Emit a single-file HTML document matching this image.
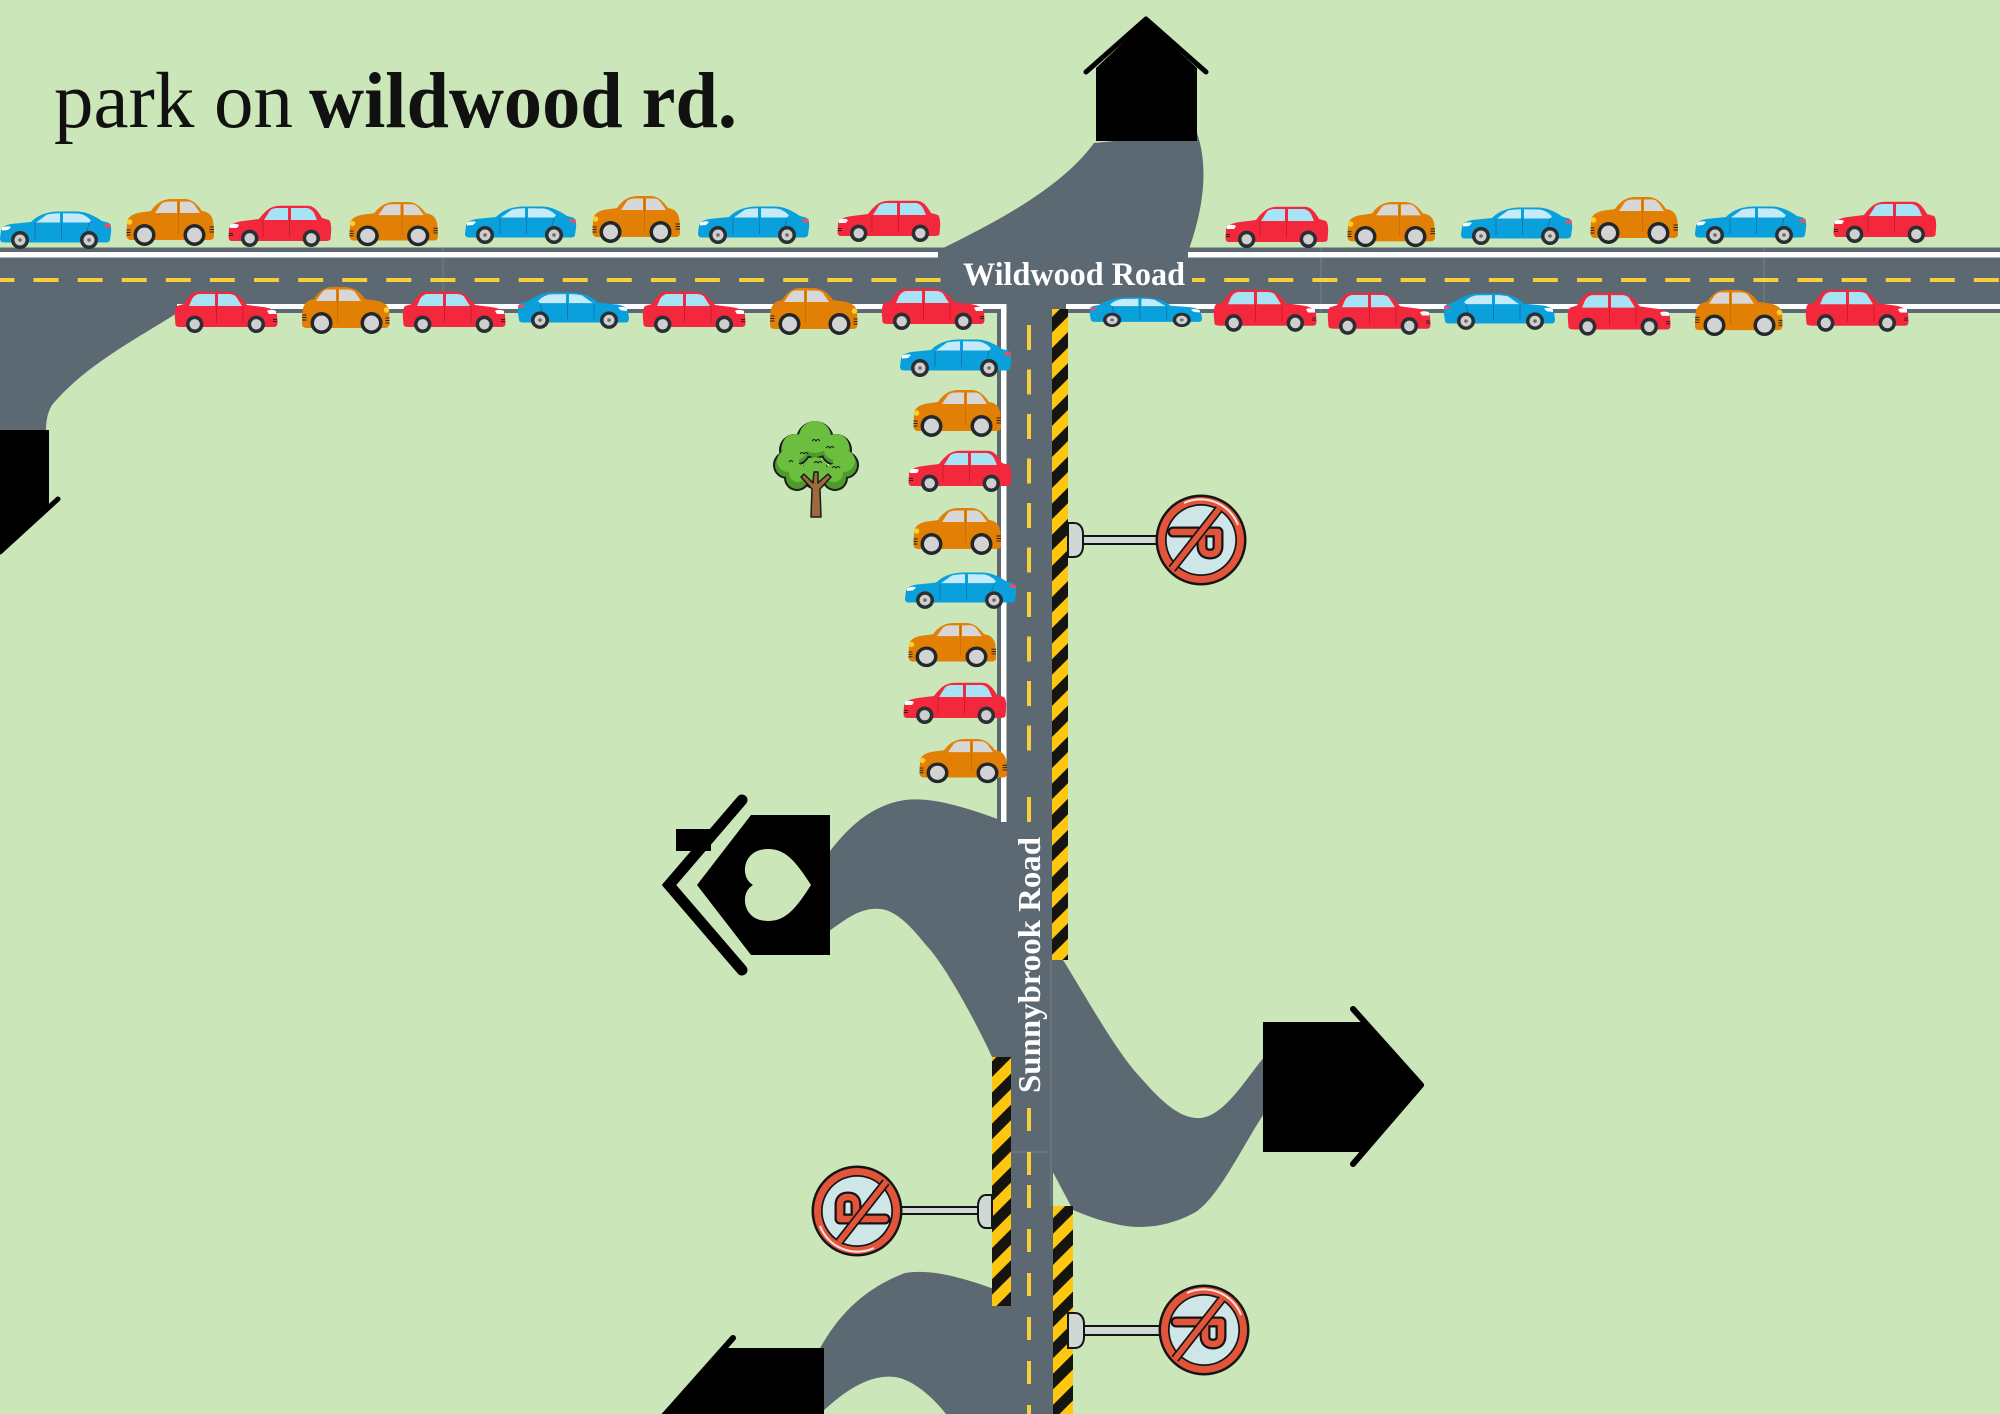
<!DOCTYPE html>
<html><head><meta charset="utf-8">
<style>html,body{margin:0;padding:0;background:#cbe6b8}svg{display:block}</style>
</head><body>
<svg width="2000" height="1414" viewBox="0 0 2000 1414" xmlns="http://www.w3.org/2000/svg">
<defs>
  <pattern id="hz" patternUnits="userSpaceOnUse" width="22" height="22" patternTransform="rotate(45)">
    <rect width="22" height="22" fill="#fdc60f"/><rect width="11" height="22" fill="#16140f"/>
  </pattern>
  <pattern id="hd" patternUnits="userSpaceOnUse" x="33.5" y="278" width="44.1" height="4">
    <rect width="25" height="4" fill="#f6cf3a"/>
  </pattern>
  <pattern id="vd1" patternUnits="userSpaceOnUse" x="1027" y="325" width="4" height="44.5">
    <rect width="4" height="25" fill="#f6cf3a"/>
  </pattern>
  <pattern id="vd2" patternUnits="userSpaceOnUse" x="1027" y="1185" width="4" height="44">
    <rect width="4" height="23" fill="#f6cf3a"/>
  </pattern>

  <g id="cB">
    <path d="M1,20 C2,15 8,13 16,12.5 L31,11 C38,4 46,1 58,0.5 L78,0.5 C88,1 96,6 102,10 L108,11.5 C111,13 111.5,17 111,22 L110,29 C109.5,31 108,31.5 105,31.5 L4,31.5 C1,31.5 0,30 0,27 Z" fill="#0aa0dc"/>
    <path d="M36,11.5 L47,3.5 C52,2.5 56,2.2 60,2.2 L60,11.5 Z" fill="#c4ebf7"/>
    <path d="M63,2.2 L79,2.5 C84,3.5 88,6 91,9.5 L89,11.5 L63,11.5 Z" fill="#c4ebf7"/>
    <path d="M35,12 L35,28 M61.5,12 L61.5,28 M89,12 L85,28" stroke="#0a76a6" stroke-width="0.9" fill="none"/>
    <path d="M2,17 C5,15 9,15 11,16 L8,19 L2,19.5 Z" fill="#fff"/>
    <path d="M104,13 L111,13.5 L110.5,17 L105,16 Z" fill="#ef4f5a"/>
    <circle cx="20" cy="29" r="9" fill="#2a2f33"/><circle cx="20" cy="29" r="5.5" fill="#cfcfcf"/><circle cx="20" cy="29" r="1.8" fill="#6b6b6b"/>
    <circle cx="89" cy="29" r="9" fill="#2a2f33"/><circle cx="89" cy="29" r="5.5" fill="#cfcfcf"/><circle cx="89" cy="29" r="1.8" fill="#6b6b6b"/>
  </g>
  <g id="cO">
    <path d="M1,26 C1,18 8,15 18,14 L25,13 C31,4 38,1 46,1 L58,1 C66,1 71,6 76,13 C84,14 87,19 87.5,26 L88,38 C88,41 86,42 83,42 L5,42 C2,42 0.5,40 0.5,37 Z" fill="#e27f05"/>
    <path d="M29,15 L35,6 C37,4 40,3.5 44,3.5 L51,3.5 L51,15 Z" fill="#d7d7d7"/>
    <path d="M54,3.5 L63,3.5 C66,4 68,6 70,9 L74,15 L54,15 Z" fill="#d7d7d7"/>
    <path d="M52.5,4 L52.5,36" stroke="#c86e00" stroke-width="0.9"/>
    <circle cx="3.5" cy="24" r="2.8" fill="#f7d12e"/>
    <path d="M0.5,32h4M0.5,34.5h4M0.5,37h4M83.5,29h4.5M83.5,31.5h4.5M83.5,34h4.5" stroke="#222" stroke-width="1"/>
    <circle cx="18.5" cy="37" r="11" fill="#22272a"/><circle cx="18.5" cy="37" r="7.5" fill="#d3d3d3"/>
    <circle cx="68.5" cy="37" r="11" fill="#22272a"/><circle cx="68.5" cy="37" r="7.5" fill="#d3d3d3"/>
  </g>
  <g id="cR">
    <path d="M1,24 C2,19 8,17 15,16 L31,14 C38,5 43,1 52,0.8 L80,0.8 C86,1 90,6 94,13 L101,15 C103,17 103.5,22 103,28 L102.5,34 C102,35.5 100,36 97,36 L4,36 C1,36 0.5,34 0.5,31 Z" fill="#f3283c"/>
    <path d="M36,15 L42,5.5 C44,3.5 47,3 50,3 L60,3 L60,15 Z" fill="#a8e2f5"/>
    <path d="M63,3 L79,3 C82,3.5 84,5 86,8 L89,15 L63,15 Z" fill="#a8e2f5"/>
    <path d="M35,15 L35,32 M61.5,15 L61.5,32" stroke="#c81a2d" stroke-width="0.9"/>
    <path d="M2,20 C5,18.5 9,18.5 11,20 L9,23 L2,23 Z" fill="#fff"/>
    <path d="M1,28.5h4M1,30.5h4" stroke="#222" stroke-width="0.9"/>
    <circle cx="21.7" cy="33.3" r="8.7" fill="#2a2f33"/><circle cx="21.7" cy="33.3" r="5.2" fill="#cfcfcf"/>
    <circle cx="83.3" cy="33.3" r="8.7" fill="#2a2f33"/><circle cx="83.3" cy="33.3" r="5.2" fill="#cfcfcf"/>
  </g>
  <g id="sign">
    <circle r="45.5" fill="#141414"/>
    <circle r="43" fill="#e2553b"/>
    <path d="M-37,17 A40 40 0 0 1 -15,-37" stroke="#ffffff" stroke-width="2" fill="none" opacity="0.85"/>
    <circle r="36" fill="#141414"/>
    <circle r="34.3" fill="#cfe6e8"/>
    <path d="M-8,28 L-8,-17 L6,-17 Q14,-17 14,-9 Q14,-1 6,-1 L-8,-1" stroke="#141414" stroke-width="11" fill="none" stroke-linejoin="round" stroke-linecap="round"/>
    <path d="M-8,28 L-8,-17 L6,-17 Q14,-17 14,-9 Q14,-1 6,-1 L-8,-1" stroke="#e2553b" stroke-width="6.5" fill="none" stroke-linejoin="round" stroke-linecap="round"/>
    <line x1="-31" y1="-18" x2="29" y2="29" stroke="#141414" stroke-width="9"/>
    <line x1="-31" y1="-18" x2="29" y2="29" stroke="#e2553b" stroke-width="5.5"/>
  </g>
</defs>

<rect width="2000" height="1414" fill="#cbe6b8"/>

<!-- roads -->
<g fill="#5c6872">
  <path d="M0,300 L185,300 L177,313 C140,337 85,365 52,405 C46,415 46,425 46,434 L0,434 Z"/>
  <path d="M1094,143 L1197,133 C1208,165 1205,205 1188,252 L935,252 C990,225 1060,190 1094,143 Z"/>
  <rect x="0" y="247.5" width="2000" height="65.5"/>
  <rect x="997" y="305" width="56" height="1109"/>
  <path d="M825,858 C845,830 870,805 905,800 C930,797 960,805 1006,822 L1063,960 C1085,995 1115,1050 1140,1077 C1160,1100 1180,1120 1201,1118 C1225,1115 1245,1080 1265,1056 L1265,1112 C1240,1150 1215,1205 1190,1215 C1170,1225 1145,1230 1120,1225 C1100,1221 1085,1215 1073,1210 L992,1057 C975,1020 945,965 926,945 C910,925 895,910 880,909 C860,907 845,920 825,934 Z"/>
  <path d="M818,1352 C835,1320 860,1290 905,1273 C935,1268 970,1280 1011,1295 L1011,1414 L946,1414 C935,1400 915,1380 895,1377 C870,1374 845,1390 820,1414 Z"/>
</g>

<!-- seams -->
<g stroke="#87919a" stroke-width="1" opacity="0.6">
  <line x1="443" y1="248" x2="443" y2="313"/>
  <line x1="1321" y1="248" x2="1321" y2="313"/>
  <line x1="1764" y1="248" x2="1764" y2="313"/>
  <line x1="1011" y1="1152" x2="1048" y2="1152"/>
  <line x1="1051" y1="960" x2="1051" y2="1206"/>
</g>

<!-- white lines -->
<g fill="#ffffff">
  <rect x="0" y="252" width="938" height="5.5"/>
  <rect x="1188" y="252" width="812" height="5.5"/>
  <rect x="177" y="304" width="829" height="5"/>
  <rect x="1066" y="304" width="934" height="5"/>
  <rect x="1001" y="304" width="5.5" height="518"/>
</g>

<!-- yellow dashes -->
<rect x="0" y="278" width="946" height="4" fill="url(#hd)"/>
<rect x="1192" y="278" width="808" height="4" fill="url(#hd)"/>
<rect x="1027" y="313" width="4" height="440" fill="url(#vd1)"/>
<rect x="1027" y="797" width="4" height="25" fill="#f6cf3a"/>
<rect x="1027" y="1108" width="4" height="23" fill="#f6cf3a"/>
<rect x="1027" y="1152" width="4" height="23" fill="#f6cf3a"/>
<rect x="1027" y="1185" width="4" height="229" fill="url(#vd2)"/>

<!-- hazard stripes -->
<rect x="1052" y="309" width="16" height="651" fill="url(#hz)"/>
<rect x="992" y="1057" width="19" height="249" fill="url(#hz)"/>
<rect x="1053" y="1206" width="20" height="208" fill="url(#hz)"/>

<!-- road labels -->
<text x="963" y="285" font-family="Liberation Serif, serif" font-weight="bold" font-size="33" fill="#ffffff" textLength="222" lengthAdjust="spacingAndGlyphs">Wildwood Road</text>
<text transform="translate(1040,1093) rotate(-90)" x="0" y="0" font-family="Liberation Serif, serif" font-weight="bold" font-size="32" fill="#ffffff" textLength="256" lengthAdjust="spacingAndGlyphs">Sunnybrook Road</text>

<!-- houses -->
<g fill="#000">
  <!-- top house -->
  <path d="M1096,141 L1096,68 L1146,21 L1197,68 L1197,141 Z"/>
  <polyline points="1086,72 1146,19 1206,72" fill="none" stroke="#000" stroke-width="5" stroke-linecap="round" stroke-linejoin="round"/>
  <!-- left house -->
  <path d="M0,430 L49,430 L49,507 L0,550 Z"/>
  <line x1="58" y1="499" x2="0" y2="552" stroke="#000" stroke-width="5" stroke-linecap="round"/>
  <!-- heart house -->
  <path d="M751,815 L830,815 L830,955 L751,955 L697,885 Z"/>
  <polyline points="742,800 669,885 742,970" fill="none" stroke="#000" stroke-width="11" stroke-linecap="round" stroke-linejoin="miter"/>
  <rect x="676" y="829" width="35" height="22"/>
  <path d="M811,885 C795,860 785,849 768,849 C752,849 744,860 745,872 C746,880 750,883 753,885 C750,887 746,890 745,898 C744,910 752,921 768,921 C785,921 795,910 811,885 Z" fill="#cbe6b8"/>
  <!-- right house -->
  <path d="M1263,1022 L1364,1022 L1421,1085 L1364,1152 L1263,1152 Z"/>
  <polyline points="1353,1009 1421,1085 1353,1164" fill="none" stroke="#000" stroke-width="6" stroke-linecap="round" stroke-linejoin="round"/>
  <!-- bottom-left house -->
  <path d="M724,1348 L824,1348 L824,1414 L665,1414 Z"/>
  <line x1="733" y1="1338" x2="662" y2="1418" stroke="#000" stroke-width="6" stroke-linecap="round"/>
</g>

<!-- sign posts -->
<g fill="#cfd8d4" stroke="#141414" stroke-width="2">
  <rect x="1082" y="536" width="78" height="8"/>
  <path d="M1068,523 L1074,523 C1080,523 1083,528 1083,534 L1083,546 C1083,552 1080,557 1074,557 L1068,557 Z"/>
  <rect x="898" y="1207" width="81" height="7"/>
  <path d="M992,1195 L986,1195 C981,1195 978,1200 978,1206 L978,1217 C978,1223 981,1228 986,1228 L992,1228 Z"/>
  <rect x="1083" y="1326" width="79" height="9"/>
  <path d="M1068,1313 L1075,1313 C1081,1313 1084,1318 1084,1324 L1084,1337 C1084,1343 1081,1348 1075,1348 L1068,1348 Z"/>
</g>
<use href="#sign" transform="translate(1201,540) rotate(90)"/>
<use href="#sign" transform="translate(857,1211) rotate(-90)"/>
<use href="#sign" transform="translate(1204,1330) rotate(90)"/>

<!-- tree -->
<g>
  <g fill="#1b1b1b">
    <circle cx="815" cy="440" r="19"/><circle cx="795" cy="450" r="16"/><circle cx="787" cy="465" r="14"/>
    <circle cx="797" cy="478" r="13"/><circle cx="815" cy="474" r="15"/><circle cx="836" cy="450" r="16"/>
    <circle cx="845" cy="465" r="14"/><circle cx="835" cy="478" r="13"/>
  </g>
  <g fill="#4c9c2c">
    <circle cx="815" cy="440" r="17"/><circle cx="795" cy="450" r="14"/><circle cx="787" cy="465" r="12"/>
    <circle cx="797" cy="478" r="11"/><circle cx="815" cy="474" r="13"/><circle cx="836" cy="450" r="14"/>
    <circle cx="845" cy="465" r="12"/><circle cx="835" cy="478" r="11"/>
  </g>
  <g fill="#6cbe3f">
    <circle cx="815" cy="437" r="16"/><circle cx="795" cy="447" r="13"/><circle cx="788" cy="461" r="11"/>
    <circle cx="798" cy="473" r="9"/><circle cx="815" cy="469" r="12"/><circle cx="836" cy="447" r="13"/>
    <circle cx="844" cy="461" r="11"/><circle cx="834" cy="473" r="9"/>
  </g>
  <path d="M811,517 L812,489 L801,477 L804,474 L813,483 L814,472 L818,472 L818,483 L828,474 L831,477 L820,489 L821,517 Z" fill="#9c6a3c" stroke="#1b1b1b" stroke-width="1.5" stroke-linejoin="round"/>
  <g stroke="#1b1b1b" stroke-width="1" fill="none">
    <path d="M812,441 q2,-3 4,0 q2,-3 4,0"/><path d="M800,454 q2,-3 4,0 q2,-3 4,0"/><path d="M826,448 q2,-3 4,0 q2,-3 4,0"/>
    <path d="M789,462 q2,-3 4,0"/><path d="M814,463 q2,-3 4,0 q2,-3 4,0"/><path d="M832,468 q2,-3 4,0 q2,-3 4,0"/>
  </g>
</g>

<!-- cars top row (facing left) -->
<use href="#cB" transform="translate(0,211)"/>
<use href="#cO" transform="translate(126,198)"/>
<use href="#cR" transform="translate(228,205)"/>
<use href="#cO" transform="translate(349,201) scale(1.01,0.94)"/>
<use href="#cB" transform="translate(465,206)"/>
<use href="#cO" transform="translate(592,195)"/>
<use href="#cB" transform="translate(698,206)"/>
<use href="#cR" transform="translate(837,200)"/>
<use href="#cR" transform="translate(1225,206)"/>
<use href="#cO" transform="translate(1347,201) scale(1,0.96)"/>
<use href="#cB" transform="translate(1461,207)"/>
<use href="#cO" transform="translate(1590,196)"/>
<use href="#cB" transform="translate(1695,206)"/>
<use href="#cR" transform="translate(1833,201)"/>

<!-- cars bottom row (facing right) -->
<use href="#cR" transform="translate(278,291) scale(-1,1)"/>
<use href="#cO" transform="translate(390,286)  scale(-1,1)"/>
<use href="#cR" transform="translate(506,291) scale(-1,1)"/>
<use href="#cB" transform="translate(629,292) scale(-1,0.97)"/>
<use href="#cR" transform="translate(746,291) scale(-1,1)"/>
<use href="#cO" transform="translate(858,287) scale(-1,1)"/>
<use href="#cR" transform="translate(985,288) scale(-1,1)"/>
<use href="#cB" transform="translate(1202,297) scale(-1.01,0.79)"/>
<use href="#cR" transform="translate(1317,289) scale(-1,1.02)"/>
<use href="#cR" transform="translate(1431,292) scale(-1,1.02)"/>
<use href="#cB" transform="translate(1555,293) scale(-1,0.97)"/>
<use href="#cR" transform="translate(1671,292) scale(-1,1.04)"/>
<use href="#cO" transform="translate(1783,289) scale(-1,0.98)"/>
<use href="#cR" transform="translate(1909,289) scale(-1,1.02)"/>

<!-- cars vertical column (facing left) -->
<use href="#cB" transform="translate(900,339)"/>
<use href="#cO" transform="translate(913,389)"/>
<use href="#cR" transform="translate(908,450)"/>
<use href="#cO" transform="translate(913,507)"/>
<use href="#cB" transform="translate(905,572) scale(1,0.97)"/>
<use href="#cO" transform="translate(908,622) scale(1,0.94)"/>
<use href="#cR" transform="translate(903,682)"/>
<use href="#cO" transform="translate(919,738) scale(1,0.94)"/>

<!-- title -->
<text x="54" y="127" font-family="Liberation Serif, serif" font-size="79" fill="#111" textLength="239" lengthAdjust="spacingAndGlyphs">park on</text>
<text x="309" y="127" font-family="Liberation Serif, serif" font-weight="bold" font-size="79" fill="#111" textLength="428" lengthAdjust="spacingAndGlyphs">wildwood rd.</text>
</svg>
</body></html>
